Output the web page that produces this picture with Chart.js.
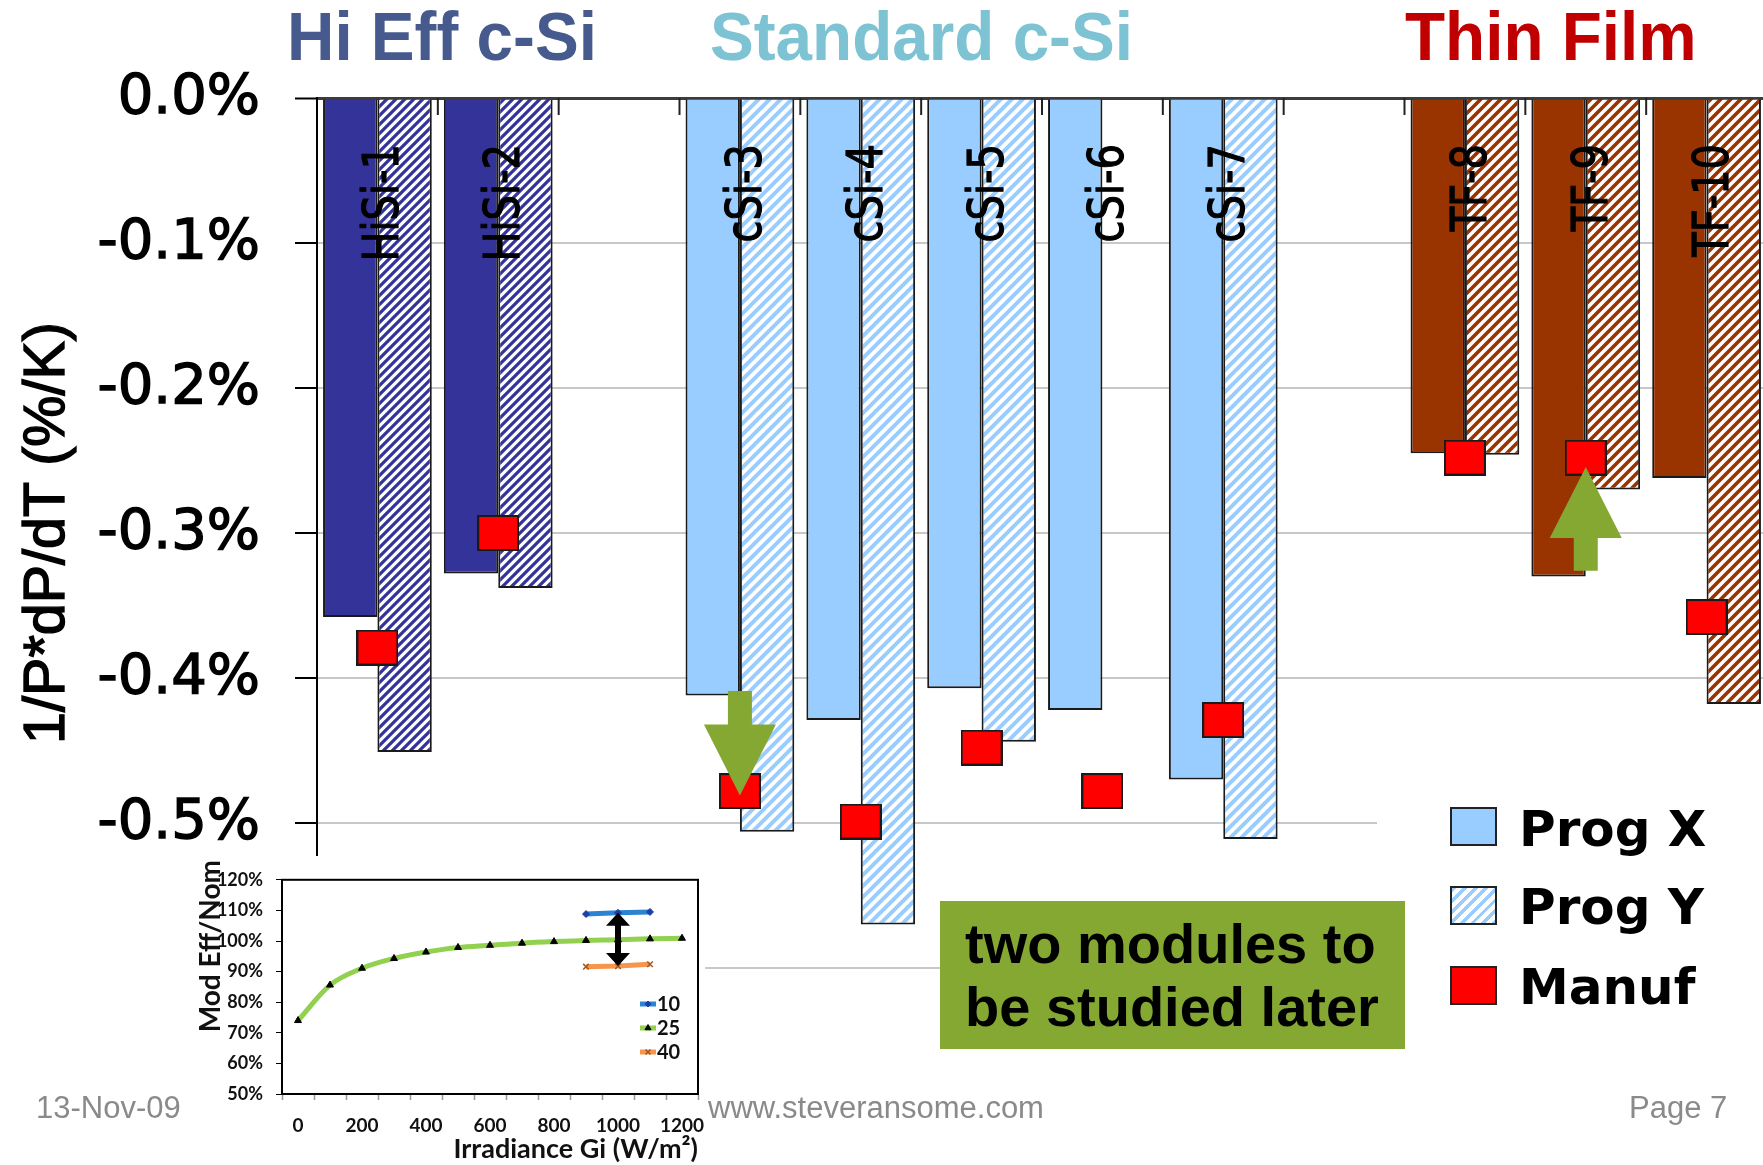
<!DOCTYPE html>
<html>
<head>
<meta charset="utf-8">
<title>Temperature coefficients by module</title>
<script src="https://cdn.jsdelivr.net/npm/chart.js@4.4.1/dist/chart.umd.min.js"></script>
<style>
  html, body { margin: 0; padding: 0; background: #fff; width: 1763px; height: 1165px; overflow: hidden; }
  .abs { position: absolute; white-space: nowrap; line-height: 1; }
  #mainChart { position: absolute; left: 0; top: 0; }
  .group-title { font-family: 'Liberation Sans', Arial, sans-serif; font-weight: bold; font-size: 68px; top: 2.4px; transform: scaleX(0.965); transform-origin: 0 0; }
  #insetBox { position: absolute; left: 0; top: 856px; width: 705px; height: 309px; background: #fff; }
  #insetChart { position: absolute; left: 150px; top: 856px; }
  #noteBox { position: absolute; left: 940px; top: 901px; width: 465px; height: 148px; background: #85A833; }
  .note { font-family: 'Liberation Sans', Arial, sans-serif; font-weight: bold; font-size: 56px; color: #000; left: 25px; }
  #legendBox { position: absolute; left: 1377px; top: 790px; width: 400px; height: 240px; background: #fff; }
  .swatch { position: absolute; left: 1450px; width: 43px; height: 35px; border: 2px solid #222; }
  .legend-text { font-family: 'DejaVu Sans', sans-serif; font-weight: bold; font-size: 50px; color: #000; left: 1519px; }
  .footer { font-family: 'Liberation Sans', Arial, sans-serif; font-size: 31px; color: #8a8a8a; top: 1091.8px; }
</style>
</head>
<body>
<canvas id="mainChart" width="1767" height="1165"></canvas>

<div id="insetBox"></div>
<canvas id="insetChart" width="555" height="309"></canvas>

<div id="legendBox"></div>
<div class="swatch" style="top:807px; background:#99CCFF"></div>
<div class="swatch" style="top:886px; background:repeating-linear-gradient(135deg, #99CCFF 0 3.5px, #fff 3.5px 7.5px)"></div>
<div class="swatch" style="top:966px; background:#FF0000"></div>
<div class="abs legend-text" style="top:803.7px">Prog X</div>
<div class="abs legend-text" style="top:881.7px">Prog Y</div>
<div class="abs legend-text" style="top:961.7px">Manuf</div>

<div id="noteBox">
  <div class="abs note" style="top:14.6px">two modules to</div>
  <div class="abs note" style="top:78.3px">be studied later</div>
</div>

<div class="abs footer" style="left:36px">13-Nov-09</div>
<div class="abs footer" style="left:708px">www.steveransome.com</div>
<div class="abs footer" style="left:1629px">Page 7</div>

<div class="abs group-title" style="left:287px; color:#475A8E">Hi Eff c-Si</div>
<div class="abs group-title" style="left:710px; color:#7DC3D3">Standard c-Si</div>
<div class="abs group-title" style="left:1405px; color:#C00000">Thin Film</div>

<script>
// ---- main chart data: temperature coefficient of power, %/K ----
const categories = ['HiSi-1', 'HiSi-2', '', 'cSi-3', 'cSi-4', 'cSi-5', 'cSi-6', 'cSi-7', '', 'TF-8', 'TF-9', 'TF-10'];
const families   = ['hi', 'hi', '', 'std', 'std', 'std', 'std', 'std', '', 'tf', 'tf', 'tf'];
const progX = [-0.358, -0.328, null, -0.412, -0.429, -0.407, -0.422, -0.470, null, -0.245, -0.330, -0.262];
const progY = [-0.451, -0.338, null, -0.506, -0.570, -0.444, null, -0.511, null, -0.246, -0.270, -0.418];
const manuf = [-0.379, -0.300, null, -0.478, -0.499, -0.448, -0.478, -0.429, null, -0.248, -0.248, -0.358];
const yMin = -0.6, yMax = 0, yStep = 0.1;
const yTitle = '1/P*dP/dT (%/K)';

// annotated shifts from measured value to datasheet value
const shifts = [
  { category: 'cSi-3', from: -0.409, to: -0.481 },
  { category: 'TF-9',  from: -0.326, to: -0.2545 }
];

// ---- inset data: relative module efficiency vs irradiance at 10/25/40 C ----
const irradiance = ['0', '100', '200', '300', '400', '500', '600', '700', '800', '900', '1000', '1100', '1200'];
const eff10 = [null, null, null, null, null, null, null, null, null, 108.8, 109.2, 109.5, null];
const eff25 = [74.0, 85.6, 91.1, 94.3, 96.4, 97.9, 98.6, 99.3, 99.8, 100.2, 100.4, 100.7, 100.9];
const eff40 = [null, null, null, null, null, null, null, null, null, 91.6, 91.8, 92.4, null];

// ---- styles ----
const familyFill = { hi: '#333399', std: '#99CCFF', tf: '#993300' };
const hatchSize  = { hi: 9, std: 11, tf: 10 };

function makeHatch(color, size) {
  const c = document.createElement('canvas');
  c.width = c.height = size;
  const g = c.getContext('2d');
  g.fillStyle = '#fff';
  g.fillRect(0, 0, size, size);
  g.strokeStyle = color;
  g.lineWidth = size * 0.36;
  g.beginPath();
  g.moveTo(0, size); g.lineTo(size, 0);
  g.moveTo(-size / 2, size / 2); g.lineTo(size / 2, -size / 2);
  g.moveTo(size / 2, size * 1.5); g.lineTo(size * 1.5, size / 2);
  g.stroke();
  return g.createPattern(c, 'repeat');
}

function makeManufMarker() {
  const c = document.createElement('canvas');
  c.width = 42; c.height = 36;
  const g = c.getContext('2d');
  g.fillStyle = '#1a1a1a';
  g.fillRect(0, 0, 42, 36);
  g.fillStyle = '#FF0000';
  g.fillRect(2, 2, 38, 32);
  return c;
}

const isZero = v => Math.abs(v) < 1e-9;

// category names written vertically inside the bars, tick marks on the zero line, axis title
const innerLabels = {
  id: 'innerLabels',
  beforeDatasetsDraw(chart) {
    const { ctx, scales: { x, y } } = chart;
    const y0 = y.getPixelForValue(0);
    const half = (x.getPixelForValue(1) - x.getPixelForValue(0)) / 2;
    ctx.save();
    ctx.strokeStyle = '#222';
    ctx.lineWidth = 2;
    for (let i = 1; i < categories.length; i++) {
      const px = x.getPixelForValue(i) - half;
      ctx.beginPath();
      ctx.moveTo(px, y0);
      ctx.lineTo(px, y0 + 17);
      ctx.stroke();
    }
    ctx.restore();
  },
  afterDatasetsDraw(chart) {
    const { ctx, chartArea: a, scales: { x, y } } = chart;
    const y0 = y.getPixelForValue(0);
    ctx.save();
    ctx.fillStyle = '#000';
    ctx.strokeStyle = '#000';
    ctx.lineWidth = 1.2;
    ctx.font = '50px "DejaVu Sans", sans-serif';
    ctx.textAlign = 'right';
    ctx.textBaseline = 'alphabetic';
    categories.forEach((name, i) => {
      if (!name) return;
      ctx.save();
      ctx.translate(x.getPixelForValue(i) + 21, y0 + 46);
      ctx.rotate(-Math.PI / 2);
      ctx.scale(0.8, 1);
      ctx.fillText(name, 0, 0);
      ctx.strokeText(name, 0, 0);
      ctx.restore();
    });

    // y axis title, centred on the plot height
    ctx.save();
    ctx.font = '57.5px "Liberation Sans", Arial, sans-serif';
    ctx.textAlign = 'center';
    ctx.textBaseline = 'middle';
    ctx.lineWidth = 1.4;
    ctx.translate(48, (a.top + a.bottom) / 2);
    ctx.rotate(-Math.PI / 2);
    ctx.fillText(yTitle, 0, 0);
    ctx.strokeText(yTitle, 0, 0);
    ctx.restore();
    ctx.restore();
  }
};

// green block arrows
const shiftArrows = {
  id: 'shiftArrows',
  afterDatasetsDraw(chart) {
    const { ctx, scales: { x, y } } = chart;
    ctx.save();
    ctx.fillStyle = '#85A833';
    shifts.forEach(s => {
      const cx = x.getPixelForValue(categories.indexOf(s.category));
      const yFrom = y.getPixelForValue(s.from);
      const yTo = y.getPixelForValue(s.to);
      const dir = Math.sign(yTo - yFrom);
      const headLen = 71, headHalf = 36, shaftHalf = 12;
      const yBase = yTo - dir * headLen;
      ctx.beginPath();
      ctx.moveTo(cx - shaftHalf, yFrom);
      ctx.lineTo(cx + shaftHalf, yFrom);
      ctx.lineTo(cx + shaftHalf, yBase);
      ctx.lineTo(cx + headHalf, yBase);
      ctx.lineTo(cx, yTo);
      ctx.lineTo(cx - headHalf, yBase);
      ctx.lineTo(cx - shaftHalf, yBase);
      ctx.closePath();
      ctx.fill();
    });
    ctx.restore();
  }
};

new Chart(document.getElementById('mainChart'), {
  type: 'bar',
  data: {
    labels: categories,
    datasets: [
      {
        type: 'line',
        label: 'Manuf',
        data: manuf,
        showLine: false,
        pointStyle: makeManufMarker(),
        pointRadius: 21,
        pointHoverRadius: 21,
        order: 0
      },
      {
        label: 'Prog X',
        data: progX,
        backgroundColor: families.map(f => familyFill[f] || 'transparent'),
        borderColor: '#1a1a1a',
        borderWidth: 2,
        order: 1
      },
      {
        label: 'Prog Y',
        data: progY,
        backgroundColor: families.map(f => f ? makeHatch(familyFill[f], hatchSize[f]) : 'transparent'),
        borderColor: '#1a1a1a',
        borderWidth: 2,
        order: 1
      }
    ]
  },
  options: {
    responsive: false,
    animation: false,
    layout: { autoPadding: false, padding: { top: 98, bottom: 197, left: 0, right: 0 } },
    datasets: { bar: { categoryPercentage: 0.9, barPercentage: 1.0 } },
    plugins: { legend: { display: false }, tooltip: { enabled: false } },
    scales: {
      x: { display: false, offset: true },
      y: {
        min: yMin,
        max: yMax,
        afterFit(scale) { scale.width = 317; },
        border: { display: true, color: '#000', width: 2 },
        grid: {
          color: c => isZero(c.tick.value) ? '#3c3c3c' : '#c8c8c8',
          lineWidth: c => isZero(c.tick.value) ? 3 : 2,
          tickColor: '#000',
          tickLength: 22,
          tickWidth: 2
        },
        ticks: {
          stepSize: yStep,
          padding: 35,
          color: '#000',
          textStrokeColor: '#000',
          textStrokeWidth: 1.4,
          font: { family: 'DejaVu Sans', size: 56 },
          callback: v => (isZero(v) ? 0 : v).toFixed(1) + '%'
        }
      }
    }
  },
  plugins: [innerLabels, shiftArrows]
});

// ---- inset chart ----
const insetFrame = {
  id: 'insetFrame',
  afterDraw(chart) {
    const { ctx, chartArea: a } = chart;
    ctx.save();
    ctx.strokeStyle = '#000';
    ctx.lineWidth = 2;
    ctx.strokeRect(a.left, a.top, a.right - a.left, a.bottom - a.top);
    // rotated y title, running up from the plot's middle to above its top edge
    ctx.fillStyle = '#111';
    ctx.font = 'bold 28px Lato, sans-serif';
    ctx.textAlign = 'right';
    ctx.textBaseline = 'middle';
    ctx.translate(61, 4);
    ctx.rotate(-Math.PI / 2);
    ctx.fillText('Mod Eff/Nom', 0, 0);
    ctx.restore();
  }
};

// double-headed arrow between the 10 C and 40 C curves at 1000 W/m2
const spreadArrow = {
  id: 'spreadArrow',
  afterDatasetsDraw(chart) {
    const { ctx, scales: { x, y } } = chart;
    const i = irradiance.indexOf('1000');
    const cx = x.getPixelForValue(i);
    const yTop = y.getPixelForValue(eff10[i]);
    const yBot = y.getPixelForValue(eff40[i]);
    const headLen = 13, headHalf = 12, shaftHalf = 3;
    ctx.save();
    ctx.fillStyle = '#000';
    ctx.beginPath();
    ctx.moveTo(cx, yTop);
    ctx.lineTo(cx + headHalf, yTop + headLen);
    ctx.lineTo(cx + shaftHalf, yTop + headLen);
    ctx.lineTo(cx + shaftHalf, yBot - headLen);
    ctx.lineTo(cx + headHalf, yBot - headLen);
    ctx.lineTo(cx, yBot);
    ctx.lineTo(cx - headHalf, yBot - headLen);
    ctx.lineTo(cx - shaftHalf, yBot - headLen);
    ctx.lineTo(cx - shaftHalf, yTop + headLen);
    ctx.lineTo(cx - headHalf, yTop + headLen);
    ctx.closePath();
    ctx.fill();
    ctx.restore();
  }
};

// small legend tucked in the lower right of the plot
const insetLegend = {
  id: 'insetLegend',
  afterDatasetsDraw(chart) {
    const { ctx, chartArea: a } = chart;
    ctx.save();
    ctx.font = 'bold 20px Lato, sans-serif';
    ctx.textBaseline = 'middle';
    chart.data.datasets.forEach((ds, i) => {
      const yy = a.bottom - 90 + i * 24;
      const x0 = a.right - 58;
      ctx.strokeStyle = ds.borderColor;
      ctx.lineWidth = ds.borderWidth;
      ctx.beginPath();
      ctx.moveTo(x0, yy);
      ctx.lineTo(x0 + 16, yy);
      ctx.stroke();
      if (Chart.helpers && Chart.helpers.drawPoint) {
        ctx.fillStyle = ds.pointBackgroundColor;
        ctx.strokeStyle = ds.pointBorderColor;
        ctx.lineWidth = ds.pointBorderWidth;
        Chart.helpers.drawPoint(ctx, { pointStyle: ds.pointStyle, radius: ds.pointRadius - 0.5, borderWidth: ds.pointBorderWidth, rotation: 0 }, x0 + 8, yy);
      }
      ctx.fillStyle = '#111';
      ctx.fillText(ds.label, x0 + 17, yy + 1);
    });
    ctx.restore();
  }
};

new Chart(document.getElementById('insetChart'), {
  type: 'line',
  data: {
    labels: irradiance,
    datasets: [
      {
        label: '10', data: eff10,
        borderColor: '#2C84D0', borderWidth: 5,
        pointStyle: 'rectRot', pointRadius: 3.5,
        pointBackgroundColor: '#1D3FA8', pointBorderColor: '#1D3FA8', pointBorderWidth: 1
      },
      {
        label: '25', data: eff25,
        borderColor: '#92D050', borderWidth: 5,
        cubicInterpolationMode: 'monotone',
        pointStyle: 'triangle', pointRadius: 4,
        pointBackgroundColor: '#000', pointBorderColor: '#000', pointBorderWidth: 1
      },
      {
        label: '40', data: eff40,
        borderColor: '#F7964A', borderWidth: 5,
        pointStyle: 'crossRot', pointRadius: 4,
        pointBackgroundColor: '#9C5A2A', pointBorderColor: '#9C5A2A', pointBorderWidth: 1.5
      }
    ]
  },
  options: {
    responsive: false,
    animation: false,
    layout: { autoPadding: false, padding: { top: 16, right: 7, left: 0, bottom: 0 } },
    plugins: { legend: { display: false }, tooltip: { enabled: false } },
    scales: {
      x: {
        offset: true,
        afterFit(scale) {
          scale.height = 71;
          // labels may hang past the frame; keep the plot edge where it is
          scale.paddingLeft = 0;
          scale.paddingRight = 0;
        },
        border: { color: '#000', width: 2 },
        grid: { offset: true, drawOnChartArea: false, tickLength: 6, tickColor: '#9a9a9a', tickWidth: 1.5 },
        ticks: {
          autoSkip: false, maxRotation: 0, padding: 14, color: '#111',
          font: { family: 'Lato', weight: 'bold', size: 19 },
          callback: (v, i) => i % 2 === 0 ? irradiance[i] : ''
        },
        title: {
          display: true, align: 'end', text: 'Irradiance Gi (W/m²)', color: '#111',
          font: { family: 'Lato', weight: 'bold', size: 27 }, padding: 0
        }
      },
      y: {
        min: 50, max: 120,
        afterFit(scale) { scale.width = 132; },
        border: { color: '#000', width: 2 },
        grid: { drawOnChartArea: false, tickLength: 6, tickColor: '#000' },
        ticks: {
          stepSize: 10, padding: 13, color: '#111',
          font: { family: 'Lato', weight: 'bold', size: 18 },
          callback: v => v + '%'
        }
      }
    }
  },
  plugins: [insetFrame, spreadArrow, insetLegend]
});
</script>
</body>
</html>
